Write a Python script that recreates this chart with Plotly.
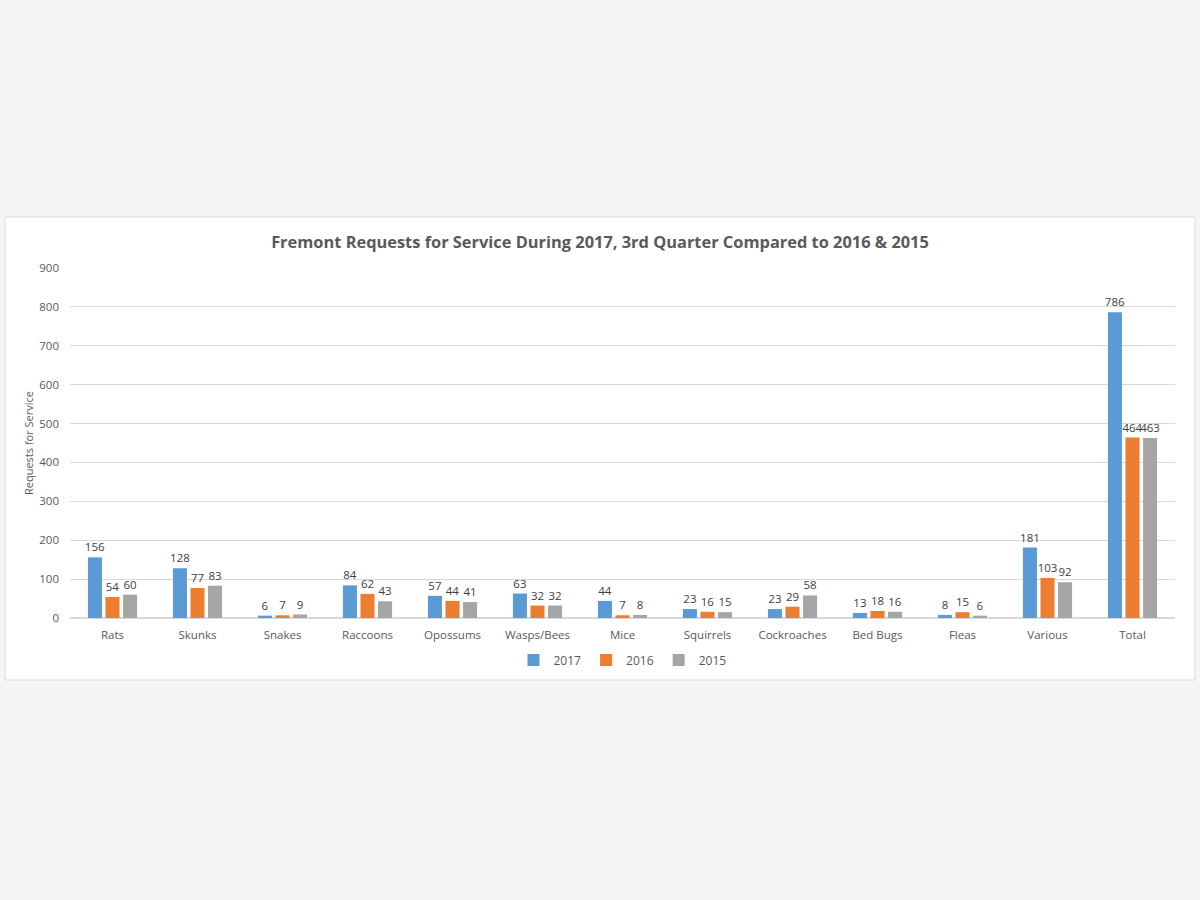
import plotly.graph_objects as go

categories = ["Rats", "Skunks", "Snakes", "Raccoons", "Opossums", "Wasps/Bees", "Mice",
              "Squirrels", "Cockroaches", "Bed Bugs", "Fleas", "Various", "Total"]
y2017 = [156, 128, 6, 84, 57, 63, 44, 23, 23, 13, 8, 181, 786]
y2016 = [54, 77, 7, 62, 44, 32, 7, 16, 29, 18, 15, 103, 464]
y2015 = [60, 83, 9, 43, 41, 32, 8, 15, 58, 16, 6, 92, 463]
series = [("2017", y2017, "#5b9bd5"), ("2016", y2016, "#ed7d31"), ("2015", y2015, "#a5a5a5")]

FONT = "Open Sans"
fig = go.Figure()
for name, vals, col in series:
    fig.add_trace(go.Bar(
        x=categories, y=vals, name=name,
        marker=dict(color=col, line=dict(color=col, width=0)),
        text=vals, textposition="outside", cliponaxis=False, constraintext="none",
        textfont=dict(size=11.5, color="#404040", family=FONT),
    ))

L, R, T, B = 70, 25, 268, 282
fig.update_layout(
    width=1200, height=900,
    margin=dict(l=L, r=R, t=T, b=B),
    paper_bgcolor="#f5f5f5", plot_bgcolor="white",
    barmode="group", bargap=0.38, bargroupgap=0.2,
    font=dict(family=FONT, color="#595959", size=12),
    title=dict(text="<b>Fremont Requests for Service During 2017, 3rd Quarter Compared to 2016 &amp; 2015</b>",
               x=0.5, xanchor="center", y=1 - 242 / 900, yanchor="middle",
               font=dict(size=16.4, color="#595959", family=FONT)),
    legend=dict(orientation="h", x=0.5, xanchor="center", y=-0.12, yanchor="middle",
                font=dict(size=12, color="#595959"), itemwidth=30, traceorder="normal",
                bgcolor="rgba(0,0,0,0)"),
    xaxis=dict(showgrid=False, showline=True, linecolor="#d9d9d9", ticks="",
               ticklabelstandoff=6,
               tickfont=dict(size=11.5, color="#595959")),
    yaxis=dict(range=[0, 900], dtick=100, showgrid=True, gridcolor="#d9d9d9",
               zeroline=True, zerolinecolor="#d9d9d9", ticks="", showline=False,
               ticklabelstandoff=10,
               tickfont=dict(size=11.5, color="#595959")),
)
fig.add_annotation(text="Requests for Service", xref="paper", yref="paper",
                   x=(28 - L) / (1200 - L - R), y=(900 - B - 443) / (900 - T - B),
                   textangle=-90, showarrow=False, xanchor="center", yanchor="middle",
                   font=dict(size=11, color="#595959", family=FONT))

pw = 1200 - L - R
ph = 900 - T - B
fig.add_shape(type="rect", xref="paper", yref="paper",
              x0=(5 - L) / pw, x1=(1195 - L) / pw,
              y0=(900 - B - 680) / ph, y1=(900 - B - 217) / ph,
              fillcolor="white", line=dict(color="#d9d9d9", width=1), layer="below")

fig.write_html("out.html", config={"displayModeBar": False},
               post_script="document.body.style.margin='0';document.body.style.overflow='hidden';"
                           "document.body.style.background='#f5f5f5';")
